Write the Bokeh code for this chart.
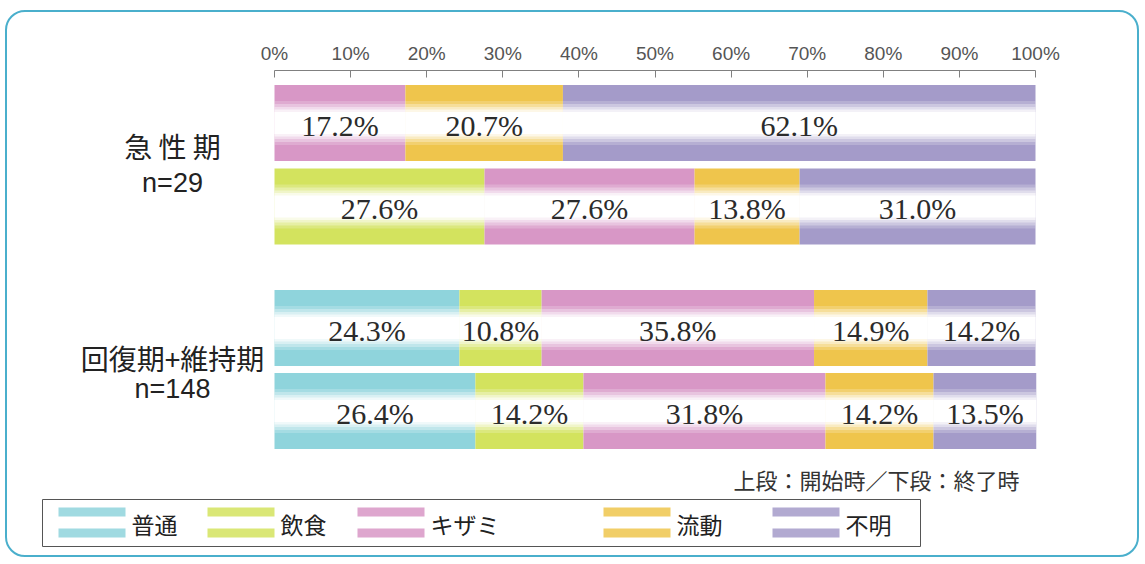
from bokeh.plotting import figure
from bokeh.models import Range1d, LinearAxis, FixedTicker, PrintfTickFormatter
from bokeh.core.properties import value
from bokeh.embed import file_html
from bokeh.resources import INLINE

# ---------------- data ----------------
categories = ["普通", "飲食", "キザミ", "流動", "不明"]
colors = ["#8fd4dc", "#d3e35e", "#d897c6", "#efc54c", "#a49bc9"]
row_names = ["急性期・開始時", "急性期・終了時", "回復期+維持期・開始時", "回復期+維持期・終了時"]
futsu = [0.0, 0.0, 24.3, 26.4]
inshoku = [0.0, 27.6, 10.8, 14.2]
kizami = [17.2, 27.6, 35.8, 31.8]
ryudo = [20.7, 13.8, 14.9, 14.2]
fumei = [62.1, 31.0, 14.2, 13.5]
tick_values = [0, 10, 20, 30, 40, 50, 60, 70, 80, 90, 100]
group_names = ["急 性 期", "回復期+維持期"]
group_ns = ["n=29", "n=148"]
note_text = "上段：開始時／下段：終了時"

# ---------------- layout (page pixels) ----------------
W, H = 1134, 547
ORIGIN_X, ORIGIN_Y = 7, 12           # canvas origin on page (css margin + border)
AXIS_Y = 70                          # page y of the percent axis line
X0_PX, X100_PX = 274, 1035           # page x of 0% and 100%
scale = (X100_PX - X0_PX) / 100.0
x_start = (ORIGIN_X - X0_PX) / scale
x_end = (ORIGIN_X + W - X0_PX) / scale


def px(page_x):
    return (page_x - X0_PX) / scale


bar_y = [122.5, 206.0, 327.5, 410.5]
bar_h = 76
group_name_y = [145, 357]
group_n_y = [182, 388]
group_x = px(172)

p = figure(width=W, height=H, output_backend="svg", toolbar_location=None,
           x_range=Range1d(x_start, x_end),
           y_range=Range1d(ORIGIN_Y + H, AXIS_Y),
           x_axis_location=None, y_axis_location=None,
           min_border_top=AXIS_Y - ORIGIN_Y, min_border_left=0,
           min_border_right=0, min_border_bottom=0)
p.xgrid.visible = False
p.ygrid.visible = False
p.outline_line_color = None
p.background_fill_color = None
p.border_fill_color = None
p.styles = {"border": "2px solid #4aafcc", "border-radius": "20px",
            "margin-left": "5px", "margin-top": "10px"}

ax = LinearAxis(ticker=FixedTicker(ticks=tick_values),
                formatter=PrintfTickFormatter(format="%d%%"))
ax.bounds = (0, 100)
ax.axis_line_color = "#808080"
ax.major_tick_line_color = "#808080"
ax.major_tick_in = 7
ax.major_tick_out = 0
ax.minor_tick_line_color = None
ax.major_label_standoff = 7
ax.major_label_text_font = "Liberation Sans"
ax.major_label_text_font_size = "19px"
ax.major_label_text_color = "#555555"
p.add_layout(ax, "above")

# ---------------- bars ----------------
series = [futsu, inshoku, kizami, ryudo, fumei]
seg = dict(left=[], right=[], y=[], color=[], label=[], mid=[])
for r in range(len(row_names)):
    cum = 0.0
    for k, s in enumerate(series):
        v = s[r]
        if v > 0:
            seg["left"].append(cum)
            seg["right"].append(cum + v)
            seg["y"].append(bar_y[r])
            seg["color"].append(colors[k])
            seg["label"].append(f"{v:.1f}%")
            seg["mid"].append(cum + v / 2)
        cum += v

tops = [y - bar_h / 2 for y in seg["y"]]
bots = [y + bar_h / 2 for y in seg["y"]]
p.quad(left=seg["left"], right=seg["right"], top=tops, bottom=bots,
       fill_color=seg["color"], line_color=None)
# soft white band across the middle of each bar
for hh, a in [(44, 0.2), (38, 0.3), (32, 0.4), (27, 0.6), (22, 1.0)]:
    p.quad(left=seg["left"], right=seg["right"],
           top=[y - hh / 2 for y in seg["y"]], bottom=[y + hh / 2 for y in seg["y"]],
           fill_color="white", fill_alpha=a, line_color=None)

p.text(x=seg["mid"], y=[y + 2 for y in seg["y"]], text=seg["label"],
       text_font=value("Liberation Serif"), text_font_size="30px",
       text_align="center", text_baseline="middle", text_color="#2b2b2b")

# ---------------- group labels ----------------
p.text(x=[group_x] * 2, y=group_name_y, text=group_names,
       text_font=value("Noto Sans CJK JP"), text_font_size="28px",
       text_align="center", text_baseline="middle", text_color="#222222")
p.text(x=[group_x] * 2, y=group_n_y, text=group_ns,
       text_font=value("Liberation Sans"), text_font_size="27px",
       text_align="center", text_baseline="middle", text_color="#222222")

# ---------------- note ----------------
p.text(x=[px(1019)], y=[478], text=[note_text],
       text_font=value("Noto Sans CJK JP"), text_font_size="22px",
       text_align="right", text_baseline="middle", text_color="#333333")

# ---------------- legend ----------------
leg_sw_x = [58, 207, 357, 603, 772]
sw_w = 67
p.quad(left=[px(42)], right=[px(920)], top=[499], bottom=[546],
       fill_color=None, line_color="#555555", line_width=1)
lx = [px(x) for x in leg_sw_x]
rx = [px(x + sw_w) for x in leg_sw_x]
p.quad(left=lx, right=rx, top=[507] * 5, bottom=[516] * 5,
       fill_color=colors, fill_alpha=0.85, line_color=None)
p.quad(left=lx, right=rx, top=[528] * 5, bottom=[537] * 5,
       fill_color=colors, fill_alpha=0.85, line_color=None)
p.text(x=[px(x + sw_w + 6) for x in leg_sw_x], y=[523] * 5, text=categories,
       text_font=value("Noto Sans CJK JP"), text_font_size="23px",
       text_align="left", text_baseline="middle", text_color="#222222")

open("out.html", "w").write(file_html(p, INLINE))
